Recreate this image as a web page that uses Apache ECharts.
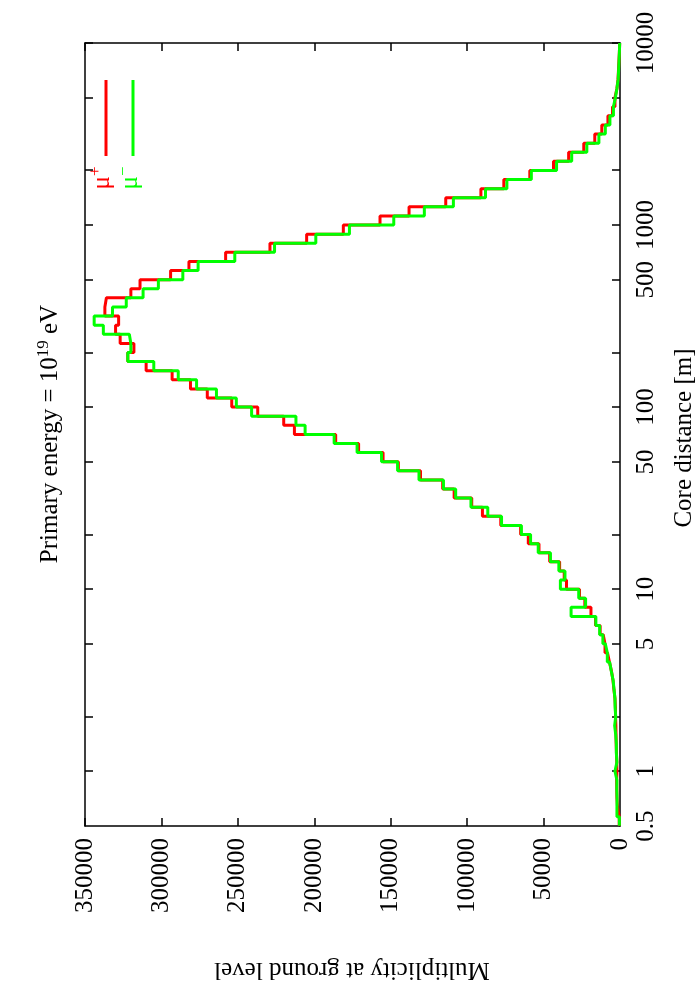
<!DOCTYPE html>
<html><head><meta charset="utf-8">
<script src="https://cdn.jsdelivr.net/npm/echarts@6/dist/echarts.min.js"></script>
<style>html,body{margin:0;padding:0;background:#fff}#c{width:700px;height:1000px}</style>
</head><body><div id="c"></div>
<script>
// Histogram bins: uniform in log10(core distance / m)
const binLogStart = -0.30;
const binLogWidth = 0.05;
// mu+ multiplicity per bin (red)
const muPlus = [500,1600,2000,2100,2200,2000,2100,2300,2500,2600,
  2700,2900,3000,3300,4000,4600,5600,6900,8200,9800,
  11000,13000,16000,19000,23000,26500,35000,36500,39500,46000,
  53000,60000,65000,78000,90000,97000,108500,116000,130500,145000,
  155000,171000,186000,213000,220000,237000,254000,270000,281000,293000,
  310000,322000,318000,327000,330000,328000,337000,336000,320000,314000,
  294000,282000,258000,229000,205000,181000,157000,138000,114000,91000,
  76000,59000,43500,33600,23700,16500,11900,7900,4900,3300,
  2000,1300,1000,700,400,200];
// mu- multiplicity per bin (green)
const muMinus = [400,2000,1900,2100,2000,3300,2000,2400,2400,2800,
  3500,2800,3200,3300,3900,4500,5700,6800,8300,9600,
  11200,13300,15800,32000,22500,27000,39000,36000,40000,45500,
  53500,58500,64500,77500,86500,97500,107500,115500,131500,145500,
  156000,172000,187000,206000,212000,241000,251000,264000,277000,289000,
  305000,322000,320000,321000,338000,344000,332000,323000,312000,302000,
  286000,276000,252000,226000,199000,177000,148000,128000,109000,88000,
  74000,58000,41500,31600,21700,13800,9600,6600,4300,3000,
  2000,1200,900,650,400,200];
const distanceTicks = [1,2,5,10,20,50,100,200,500,1000,2000,5000,10000];
const distanceLabels = [0.5,1,5,10,50,100,500,1000,10000];
const seriesNames = ['μ+','μ−'];
const seriesColors = ['#ff0000','#00ff00'];

function steps(vals){
  const pts=[];
  vals.forEach((v,i)=>{
    const lo=Math.pow(10,binLogStart+i*binLogWidth);
    const hi=Math.pow(10,binLogStart+(i+1)*binLogWidth);
    pts.push([v,lo],[v,hi]);
  });
  return pts;
}
const FONT='Liberation Serif';
const FS=25;
const fmtNum = v => String(Number(Number(v).toPrecision(6)));
function xAx(pos, showLabel){
  return {type:'value', position:pos, min:0, max:350000, interval:50000, inverse:true,
    axisLine:{show:true, onZero:false, lineStyle:{color:'#000', width:1.5}},
    axisTick:{show:true, inside:true, length:8, lineStyle:{color:'#000', width:1.5}},
    axisLabel:{show:showLabel, rotate:90, margin:12, fontFamily:FONT, fontSize:FS, color:'#000', formatter:fmtNum},
    splitLine:{show:false}};
}
function yAx(pos, showLabel){
  return {type:'log', logBase:10, position:pos, min:0.5, max:10000,
    axisLine:{show:true, onZero:false, lineStyle:{color:'#000', width:1.5}},
    axisTick:{show:true, inside:true, length:8, customValues:distanceTicks, lineStyle:{color:'#000', width:1.5}},
    axisLabel:{show:showLabel, rotate:90, margin:14, customValues:distanceLabels, fontFamily:FONT, fontSize:FS, color:'#000', formatter:fmtNum},
    splitLine:{show:false}, minorTick:{show:false}};
}
const chart = echarts.init(document.getElementById('c'), null, {renderer:'canvas'});
chart.setOption({
  animation:false,
  backgroundColor:'#fff',
  grid:{left:85, right:80, top:43, bottom:174, containLabel:false},
  xAxis:[xAx('bottom',true), xAx('top',false)],
  yAxis:[yAx('right',true), yAx('left',false)],
  series:[
    {name:seriesNames[0], type:'line', xAxisIndex:0, yAxisIndex:0, data:steps(muPlus), showSymbol:false, symbol:'none',
      lineStyle:{color:seriesColors[0], width:3}, itemStyle:{color:seriesColors[0]}},
    {name:seriesNames[1], type:'line', xAxisIndex:0, yAxisIndex:0, data:steps(muMinus), showSymbol:false, symbol:'none',
      lineStyle:{color:seriesColors[1], width:3}, itemStyle:{color:seriesColors[1]}}
  ],
  graphic:[
    {type:'text', x:50, y:434, rotation:Math.PI/2, style:{
      text:'{n|Primary energy = 10}{s|19}{n| eV}', align:'center', verticalAlign:'middle',
      rich:{n:{fontFamily:FONT, fontSize:FS, fill:'#000', lineHeight:32},
            s:{fontFamily:FONT, fontSize:17, fill:'#000', padding:[0,0,13,0]}}}},
    {type:'text', x:684, y:438, rotation:Math.PI/2, style:{
      text:'Core distance [m]', align:'center', verticalAlign:'middle', font:FS+'px "Liberation Serif"', fill:'#000'}},
    {type:'text', x:352, y:970, rotation:Math.PI, style:{
      text:'Multiplicity at ground level', align:'center', verticalAlign:'middle', font:FS+'px "Liberation Serif"', fill:'#000'}},
    {type:'line', shape:{x1:106, y1:80, x2:106, y2:156}, style:{stroke:seriesColors[0], lineWidth:3}},
    {type:'line', shape:{x1:133, y1:80, x2:133, y2:156}, style:{stroke:seriesColors[1], lineWidth:3}},
    {type:'text', x:102, y:178, rotation:Math.PI/2, style:{
      text:'{n|μ}{s|+}', align:'center', verticalAlign:'middle',
      rich:{n:{fontFamily:FONT, fontSize:FS, fill:seriesColors[0]}, s:{fontFamily:FONT, fontSize:17, fill:seriesColors[0], padding:[0,0,13,0]}}}},
    {type:'text', x:130, y:178, rotation:Math.PI/2, style:{
      text:'{n|μ}{s|−}', align:'center', verticalAlign:'middle',
      rich:{n:{fontFamily:FONT, fontSize:FS, fill:seriesColors[1]}, s:{fontFamily:FONT, fontSize:17, fill:seriesColors[1], padding:[0,0,13,0]}}}}
  ]
});
</script></body></html>
